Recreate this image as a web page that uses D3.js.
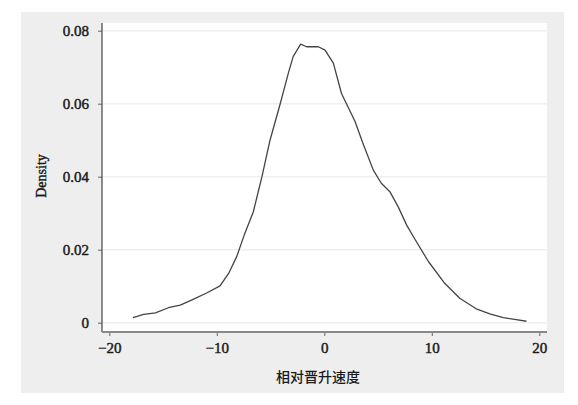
<!DOCTYPE html>
<html>
<head>
<meta charset="utf-8">
<script src="https://cdn.jsdelivr.net/npm/d3@7"></script>
<style>
  html, body { margin: 0; padding: 0; background: #ffffff; }
  svg { display: block; }
</style>
</head>
<body>
<svg id="chart" width="578" height="405"></svg>
<script>
// Data (kernel density curve)
const xValues = [-17.8, -16.8, -15.7, -14.5, -13.4, -12.2, -10.9, -9.7, -8.9, -8.15, -7.45, -6.6, -5.8, -5.05, -4.1, -3.35, -2.9, -2.2, -1.65, -0.55, 0.07, 0.84, 1.6, 2.86, 3.6, 4.56, 5.3, 6.1, 6.9, 7.65, 8.4, 9.7, 11.2, 12.6, 14.2, 15.4, 16.65, 17.7, 18.8];
const densityValues = [0.0014, 0.0023, 0.0027, 0.0041, 0.0048, 0.0064, 0.0082, 0.0101, 0.0135, 0.0181, 0.0240, 0.0304, 0.0400, 0.0500, 0.0600, 0.0683, 0.0729, 0.0763, 0.0756, 0.0756, 0.0747, 0.0711, 0.0628, 0.0551, 0.0491, 0.0418, 0.0382, 0.0359, 0.0316, 0.0268, 0.0230, 0.0167, 0.0108, 0.0067, 0.0037, 0.0024, 0.0014, 0.0009, 0.0004];
const xTicks = [-20, -10, 0, 10, 20];
const xTickLabels = ["\u221220", "\u221210", "0", "10", "20"];
const yTicks = [0, 0.02, 0.04, 0.06, 0.08];
const yTickLabels = ["0", "0.02", "0.04", "0.06", "0.08"];
const xTitle = "相对晋升速度";
const yTitle = "Density";

const points = xValues.map((x, i) => ({ x: x, y: densityValues[i] }));

const svg = d3.select("#chart");
const serif = "'Liberation Serif', 'DejaVu Serif', serif";

// outer gray panel
svg.append("rect").attr("x", 21).attr("y", 12).attr("width", 543).attr("height", 381).attr("fill", "#eeeeee");

// plot area
const plot = { left: 102, right: 547, top: 23, bottom: 332 };
svg.append("rect").attr("x", plot.left).attr("y", plot.top)
  .attr("width", plot.right - plot.left).attr("height", plot.bottom - plot.top).attr("fill", "#ffffff");

const x = d3.scaleLinear().domain([-20, 20]).range([109.3, 539.3]);
const y = d3.scaleLinear().domain([0, 0.08]).range([322.7, 30.7]);

// gridlines
svg.append("g").selectAll("line").data(yTicks).join("line")
  .attr("x1", plot.left + 1).attr("x2", plot.right)
  .attr("y1", d => y(d)).attr("y2", d => y(d))
  .attr("stroke", "#efefef").attr("stroke-width", 1.5);

// y axis
const yAxis = d3.axisLeft(y).tickValues(yTicks).tickFormat((d, i) => yTickLabels[i]).tickSize(4).tickPadding(9);
const gy = svg.append("g").attr("transform", `translate(${plot.left},0)`).call(yAxis);
gy.select(".domain").remove();
gy.append("line").attr("x1", 0).attr("x2", 0).attr("y1", plot.top).attr("y2", plot.bottom)
  .attr("stroke", "#444").attr("stroke-width", 1.2);
gy.selectAll(".tick line").attr("stroke", "#666");
gy.selectAll(".tick text").attr("font-family", serif).attr("font-size", 15).attr("fill", "#1a1a1a")
  .attr("stroke", "#1a1a1a").attr("stroke-width", 0.45);

// x axis
const xAxis = d3.axisBottom(x).tickValues(xTicks).tickFormat((d, i) => xTickLabels[i]).tickSize(4).tickPadding(6);
const gx = svg.append("g").attr("transform", `translate(0,${plot.bottom})`).call(xAxis);
gx.select(".domain").remove();
gx.append("line").attr("x1", plot.left).attr("x2", plot.right).attr("y1", 0).attr("y2", 0)
  .attr("stroke", "#888").attr("stroke-width", 2);
gx.selectAll(".tick line").attr("stroke", "#666");
gx.selectAll(".tick text").attr("font-family", serif).attr("font-size", 15).attr("fill", "#1a1a1a")
  .attr("stroke", "#1a1a1a").attr("stroke-width", 0.45);

// curve
const line = d3.line().x(d => x(d.x)).y(d => y(d.y)).curve(d3.curveLinear);
svg.append("path").datum(points).attr("d", line)
  .attr("fill", "none").attr("stroke", "#444").attr("stroke-width", 1.3).attr("stroke-linejoin", "round");

// titles
svg.append("text").attr("x", 318).attr("y", 382).attr("text-anchor", "middle")
  .attr("font-family", "'Noto Sans CJK SC', sans-serif").attr("font-size", 14).attr("font-weight", 500).attr("fill", "#1a1a1a")
  .text(xTitle);
svg.append("text").attr("transform", "translate(46,176) rotate(-90)").attr("text-anchor", "middle")
  .attr("font-family", serif).attr("font-size", 14).attr("fill", "#1a1a1a")
  .attr("stroke", "#1a1a1a").attr("stroke-width", 0.4)
  .text(yTitle);
</script>
</body>
</html>
